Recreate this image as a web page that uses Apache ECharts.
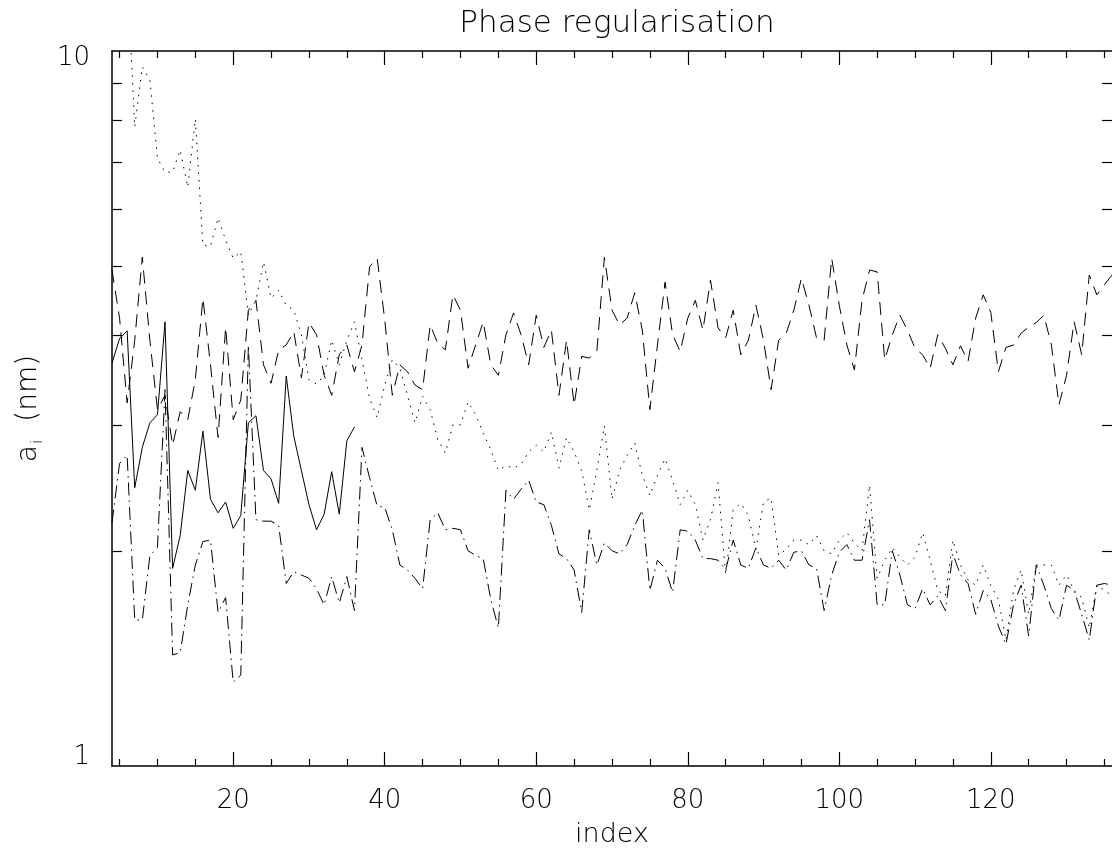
<!DOCTYPE html>
<html>
<head>
<meta charset="utf-8">
<title>Phase regularisation</title>
<script src="https://cdn.jsdelivr.net/npm/echarts@6/dist/echarts.min.js"></script>
<style>
html, body { margin: 0; padding: 0; background: #fff; }
#main { width: 1112px; height: 856px; }
</style>
</head>
<body>
<div id="main"></div>
<script>
// mode index of the first point (Noll 4 = defocus)
var firstIndex = 4;

// a_i in nm, one value per index starting at firstIndex
var solid = [3.66, 3.96, 4.06, 2.45, 2.79, 3.02, 3.10, 4.18, 1.89, 2.10,
    2.59, 2.43, 2.94, 2.36, 2.26, 2.34, 2.15, 2.24, 3.02, 3.09,
    2.59, 2.52, 2.33, 3.51, 2.89, 2.59, 2.32, 2.14, 2.25, 2.58,
    2.25, 2.85, 2.98];

var dashed = [4.94, 4.23, 3.22, 3.94, 5.15, 3.94, 3.15, 3.30, 2.81, 3.13,
    3.05, 3.47, 4.51, 3.64, 2.88, 4.11, 3.05, 3.25, 4.34, 4.48,
    3.64, 3.43, 3.82, 3.88, 4.05, 3.49, 4.17, 4.01, 3.52, 3.30,
    3.76, 3.88, 3.56, 3.88, 4.99, 5.13, 4.21, 3.30, 3.64, 3.56,
    3.41, 3.36, 4.14, 3.90, 3.82, 4.56, 4.34, 3.60, 3.88, 4.18,
    3.64, 3.52, 4.01, 4.30, 4.01, 3.64, 4.27, 3.85, 4.07, 3.30,
    3.94, 3.20, 3.74, 3.72, 3.80, 5.15, 4.34, 4.14, 4.23, 4.59,
    4.07, 3.15, 3.88, 4.75, 4.01, 3.80, 4.23, 4.48, 4.07, 4.78,
    4.10, 3.97, 4.34, 3.76, 3.94, 4.41, 3.94, 3.36, 3.94, 4.03,
    4.34, 4.81, 4.41, 3.97, 3.94, 5.13, 4.41, 3.88, 3.58, 4.48,
    4.94, 4.91, 3.70, 4.01, 4.27, 4.07, 3.84, 3.76, 3.60, 4.01,
    3.84, 3.64, 3.87, 3.68, 4.23, 4.56, 4.31, 3.56, 3.85, 3.88,
    4.03, 4.11, 4.17, 4.27, 3.88, 3.20, 3.52, 4.18, 3.76, 4.86,
    4.56, 4.71, 4.86];

var dotted = [16.0, 15.0, 13.0, 7.83, 9.50, 9.11, 7.08, 6.77, 6.77, 7.27,
    6.45, 8.03, 5.35, 5.33, 5.84, 5.44, 5.13, 5.24, 4.27, 4.48,
    5.07, 4.51, 4.63, 4.41, 4.34, 4.01, 3.47, 3.42, 3.52, 3.94,
    3.64, 3.94, 4.18, 3.70, 3.27, 3.07, 3.41, 3.70, 3.60, 3.30,
    3.02, 3.29, 3.15, 2.86, 2.74, 3.00, 3.00, 3.23, 3.10, 2.92,
    2.77, 2.59, 2.63, 2.61, 2.64, 2.75, 2.81, 2.75, 2.93, 2.61,
    2.88, 2.75, 2.59, 2.28, 2.59, 2.99, 2.36, 2.59, 2.72, 2.83,
    2.55, 2.39, 2.55, 2.69, 2.51, 2.32, 2.43, 2.32, 2.07, 2.21,
    2.49, 1.85, 2.28, 2.33, 2.24, 2.01, 2.34, 2.37, 1.97, 2.01,
    2.07, 2.07, 2.04, 2.10, 2.00, 1.98, 2.07, 2.12, 2.05, 2.00,
    2.47, 1.83, 1.94, 2.02, 1.96, 1.91, 1.96, 2.12, 1.94, 1.76,
    1.73, 2.07, 1.91, 1.82, 1.79, 1.91, 1.79, 1.71, 1.50, 1.76,
    1.88, 1.63, 1.91, 1.91, 1.91, 1.79, 1.85, 1.76, 1.72, 1.56,
    1.79, 1.76, 1.73];

var dashDot = [2.19, 2.65, 2.72, 1.60, 1.60, 1.97, 2.02, 3.36, 1.43, 1.44,
    1.68, 1.91, 2.06, 2.07, 1.64, 1.72, 1.31, 1.34, 3.88, 2.21,
    2.20, 2.20, 2.17, 1.80, 1.87, 1.85, 1.83, 1.77, 1.68, 1.84,
    1.69, 1.84, 1.65, 2.79, 2.53, 2.31, 2.30, 2.14, 1.91, 1.88,
    1.83, 1.77, 2.21, 2.26, 2.14, 2.15, 2.14, 2.00, 1.97, 1.95,
    1.71, 1.56, 2.43, 2.36, 2.44, 2.51, 2.34, 2.32, 2.17, 1.98,
    1.95, 1.88, 1.64, 2.14, 1.91, 2.05, 2.00, 1.98, 2.04, 2.17,
    2.28, 1.76, 1.94, 1.89, 1.75, 2.14, 2.13, 2.07, 1.95, 1.95,
    1.94, 1.88, 2.07, 1.91, 1.89, 2.02, 1.91, 1.89, 1.94, 1.88,
    1.99, 2.00, 1.91, 1.89, 1.65, 1.85, 1.99, 2.04, 1.94, 1.94,
    2.21, 1.68, 1.68, 2.00, 1.85, 1.68, 1.66, 1.77, 1.68, 1.73,
    1.65, 1.98, 1.85, 1.80, 1.63, 1.76, 1.71, 1.57, 1.48, 1.68,
    1.79, 1.52, 1.91, 1.79, 1.66, 1.60, 1.79, 1.76, 1.63, 1.50,
    1.79, 1.80, 1.79];

// axis ticks
var xRange = [4, 136];
var xMajorTicks = [20, 40, 60, 80, 100, 120];
var xMinorTicks = [5, 10, 15, 25, 30, 35, 45, 50, 55, 65, 70, 75, 85, 90, 95,
    105, 110, 115, 125, 130, 135];
var yRange = [1, 10];
var yTickLabels = [1, 10];
var yMinorTicks = [2, 3, 4, 5, 6, 7, 8, 9];

function toPoints(values) {
    var pts = [];
    for (var i = 0; i < values.length; i++) {
        pts.push([firstIndex + i, values[i]]);
    }
    return pts;
}

var font = 'DejaVu Sans';
var ink = '#000';

function xAxisPart(position, ticks, len, withLabels, withLine) {
    return {
        type: 'value',
        position: position,
        min: xRange[0],
        max: xRange[1],
        axisLine: { show: withLine, onZero: false, lineStyle: { color: ink, width: 1.5 } },
        axisTick: { show: true, inside: true, length: len, customValues: ticks,
            lineStyle: { color: ink, width: 1.2 } },
        axisLabel: { show: withLabels, customValues: xMajorTicks, margin: 22,
            fontFamily: font, fontSize: 26, fontWeight: 200, color: ink },
        splitLine: { show: false }
    };
}

function yAxisPart(position, withLabels, withLine) {
    return {
        type: 'log',
        logBase: 10,
        position: position,
        min: yRange[0],
        max: yRange[1],
        axisLine: { show: withLine, onZero: false, lineStyle: { color: ink, width: 1.5 } },
        axisTick: { show: true, inside: true, length: 10, customValues: yMinorTicks,
            lineStyle: { color: ink, width: 1.2 } },
        axisLabel: {
            show: withLabels,
            customValues: yTickLabels,
            margin: 22,
            fontFamily: font,
            fontSize: 26,
            fontWeight: 200,
            color: ink,
            formatter: function (v) {
                return v >= 10 ? '{hi|' + v + '}' : '{lo|' + v + '}';
            },
            rich: {
                hi: { fontFamily: font, fontSize: 26, fontWeight: 200, color: ink, padding: [14, 0, 0, 0] },
                lo: { fontFamily: font, fontSize: 26, fontWeight: 200, color: ink, padding: [0, 0, 18, 0] }
            }
        },
        splitLine: { show: false }
    };
}

var myChart = echarts.init(document.getElementById('main'), null, { renderer: 'canvas' });

var xb = xAxisPart('bottom', xMajorTicks, 14, true, true);
xb.name = 'index';
xb.nameLocation = 'middle';
xb.nameGap = 55;
xb.nameTextStyle = { fontFamily: font, fontSize: 27, fontWeight: 200, color: ink };

var yl = yAxisPart('left', true, true);
yl.name = '{a|a}{s|i}{a|  (nm)}';
yl.nameLocation = 'middle';
yl.nameGap = 66;
yl.nameTextStyle = {
    fontFamily: font, fontSize: 28, fontWeight: 200, color: ink,
    rich: {
        a: { fontFamily: font, fontSize: 28, fontWeight: 200, color: ink },
        s: { fontFamily: font, fontSize: 16, fontWeight: 200, color: ink, padding: [18, 0, 0, 1] }
    }
};

var yr = yAxisPart('right', false, false);

function lineSeries(name, values, dash) {
    return {
        name: name,
        type: 'line',
        data: toPoints(values),
        showSymbol: false,
        symbol: 'none',
        xAxisIndex: 0,
        yAxisIndex: 0,
        clip: true,
        lineStyle: { color: ink, width: 1, type: dash },
        emphasis: { disabled: true }
    };
}

var option = {
    backgroundColor: '#fff',
    animation: false,
    title: {
        text: 'Phase regularisation',
        left: 612,
        top: 3,
        textAlign: 'center',
        textStyle: { fontFamily: font, fontSize: 31, fontWeight: 200, color: ink }
    },
    grid: { left: 112, right: 0, top: 51, bottom: 90, containLabel: false },
    xAxis: [
        xb,
        xAxisPart('bottom', xMinorTicks, 7, false, false),
        xAxisPart('top', xMajorTicks, 14, false, true),
        xAxisPart('top', xMinorTicks, 7, false, false)
    ],
    yAxis: [
        yl,
        yr
    ],
    series: [
        lineSeries('solid', solid, 'solid'),
        lineSeries('dashed', dashed, [13, 8]),
        lineSeries('dotted', dotted, [1.5, 6]),
        lineSeries('dash-dot', dashDot, [13, 5, 1.5, 5])
    ]
};

myChart.setOption(option);
</script>
</body>
</html>
